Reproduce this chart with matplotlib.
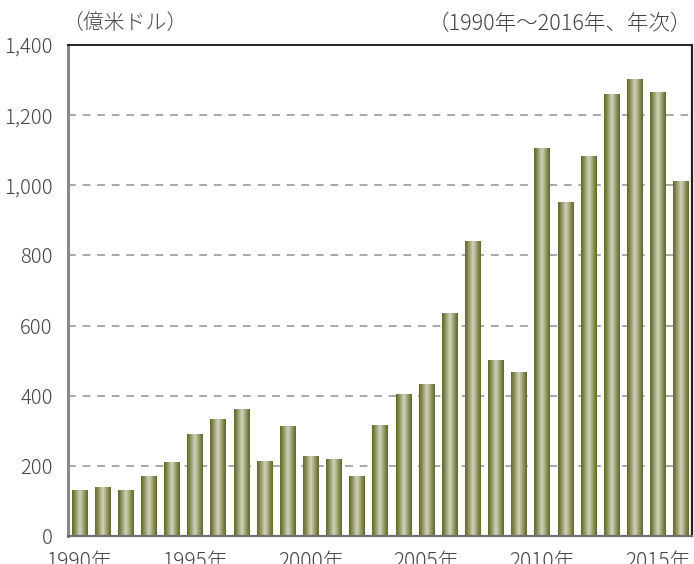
import numpy as np
import matplotlib
matplotlib.use("Agg")
import matplotlib.pyplot as plt
from matplotlib.colors import LinearSegmentedColormap

plt.rcParams['font.family'] = ['Noto Sans CJK JP', 'DejaVu Sans']
plt.rcParams['font.weight'] = 'light'

years = list(range(1990, 2017))
values = [130, 139, 130, 169, 209, 289, 331, 362, 211, 312,
          226, 218, 169, 315, 403, 432, 634, 839, 500, 466,
          1106, 950, 1081, 1260, 1302, 1265, 1012]
tick_years = [1990, 1995, 2000, 2005, 2010, 2015]
tick_labels = [f"{y}年" for y in tick_years]
yticks = [0, 200, 400, 600, 800, 1000, 1200, 1400]
ytick_labels = ["0", "200", "400", "600", "800", "1,000", "1,200", "1,400"]
unit_label = "（億米ドル）"
period_label = "（1990年〜2016年、年次）"

W, H = 694, 564
fig = plt.figure(figsize=(W / 100, H / 100), dpi=100)
ax = fig.add_axes([68 / W, (H - 536) / H, (692 - 68) / W, (536 - 45) / H])

text_color = '#444444'
cmap = LinearSegmentedColormap.from_list(
    'olive', [(0.0, '#5c6828'), (0.18, '#858c52'), (0.5, '#d4d3bd'),
              (0.82, '#878d56'), (1.0, '#5c6828')])
grad = np.linspace(0, 1, 64).reshape(1, -1)

x = np.arange(len(years))
bars = ax.bar(x, values, width=0.65, color='none', edgecolor='none', zorder=3)
for b in bars:
    x0, w, h = b.get_x(), b.get_width(), b.get_height()
    ax.imshow(grad, cmap=cmap, aspect='auto', extent=[x0, x0 + w, 0, h],
              zorder=3, interpolation='bilinear')

ax.set_xlim(-0.48, len(years) - 0.52)
ax.set_ylim(0, 1400)

for v in yticks[1:-1]:
    ax.axhline(v, color='#a8a8a8', lw=1.4, ls=(0, (4, 3.5)), zorder=1)

ax.set_yticks(yticks)
ax.set_yticklabels(ytick_labels)
ax.set_xticks([years.index(y) for y in tick_years])
ax.set_xticklabels(tick_labels)
ax.tick_params(axis='y', length=0, pad=11, labelsize=14.5, labelcolor=text_color)
ax.tick_params(axis='x', length=0, pad=11, labelsize=15, labelcolor=text_color)

ax.spines['left'].set_color('#888888')
ax.spines['left'].set_linewidth(2.2)
ax.spines['bottom'].set_color('#707070')
ax.spines['bottom'].set_linewidth(1.6)
ax.spines['top'].set_color('#222222')
ax.spines['top'].set_linewidth(1.4)
ax.spines['right'].set_color('#222222')
ax.spines['right'].set_linewidth(1.6)
for s in ax.spines.values():
    s.set_zorder(5)

fig.text(62 / W, 1 - 23 / H, unit_label, ha='left', va='center',
         fontsize=15, color=text_color)
fig.text(692 / W, 1 - 24 / H, period_label, ha='right', va='center',
         fontsize=15.5, color=text_color)

fig.savefig('out.png', dpi=100)
